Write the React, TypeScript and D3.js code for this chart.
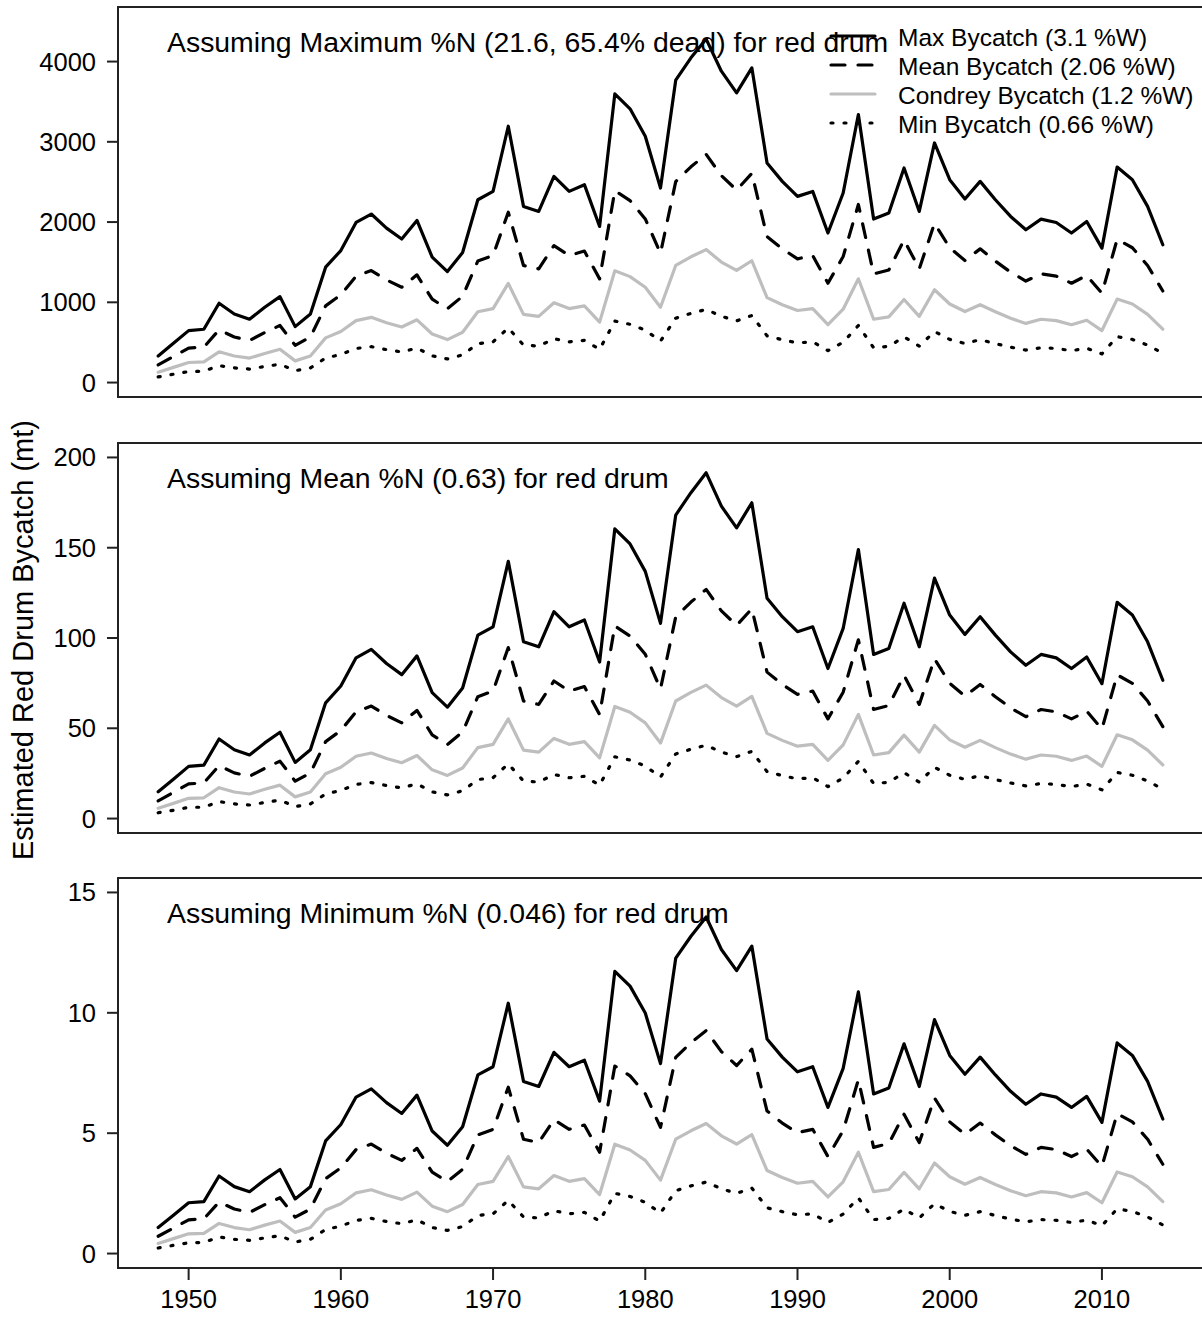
import React from "react";
import * as d3 from "d3";

// years 1948..2014
const years = d3.range(1948, 2015);

const titles = [
  "Assuming Maximum %N (21.6, 65.4% dead) for red drum",
  "Assuming Mean %N (0.63) for red drum",
  "Assuming Minimum %N (0.046) for red drum",
];

const legendLabels = [
  "Max Bycatch (3.1 %W)",
  "Mean Bycatch (2.06 %W)",
  "Condrey Bycatch (1.2 %W)",
  "Min Bycatch (0.66 %W)",
];

const yTicks1 = [0, 1000, 2000, 3000, 4000];
const yTicks2 = [0, 50, 100, 150, 200];
const yTicks3 = [0, 5, 10, 15];
const xTicks = [1950, 1960, 1970, 1980, 1990, 2000, 2010];

// panel 1: maximum %N
const p1Max = [331, 489, 647, 664, 989, 855, 789, 939, 1071, 697, 855, 1438, 1645, 1995, 2100, 1925, 1788, 2020, 1563, 1383, 1620, 2278, 2382, 3194, 2195, 2132, 2569, 2382, 2466, 1945, 3598, 3411, 3069, 2424, 3768, 4047, 4280, 3880, 3610, 3922, 2736, 2507, 2320, 2382, 1863, 2362, 3340, 2037, 2112, 2674, 2132, 2986, 2528, 2287, 2507, 2278, 2070, 1904, 2037, 1995, 1863, 2007, 1675, 2686, 2528, 2195, 1717];
const p1Mean = [220, 325, 430, 441, 657, 568, 524, 624, 712, 463, 568, 956, 1093, 1326, 1395, 1279, 1188, 1342, 1039, 919, 1076, 1514, 1583, 2122, 1459, 1417, 1707, 1583, 1639, 1292, 2391, 2267, 2039, 1611, 2504, 2689, 2844, 2578, 2399, 2606, 1818, 1666, 1542, 1583, 1238, 1570, 2219, 1354, 1403, 1777, 1417, 1984, 1680, 1520, 1666, 1514, 1376, 1265, 1354, 1326, 1238, 1334, 1113, 1785, 1680, 1459, 1141];
const p1Condrey = [128, 189, 250, 257, 383, 331, 305, 363, 415, 270, 331, 557, 637, 772, 813, 745, 692, 782, 605, 535, 627, 882, 922, 1236, 850, 825, 994, 922, 955, 753, 1393, 1320, 1188, 938, 1459, 1567, 1657, 1502, 1397, 1518, 1059, 970, 898, 922, 721, 914, 1293, 789, 818, 1035, 825, 1156, 979, 885, 970, 882, 801, 737, 789, 772, 721, 777, 648, 1040, 979, 850, 665];
const p1Min = [70, 104, 138, 141, 211, 182, 168, 200, 228, 148, 182, 306, 350, 425, 447, 410, 381, 430, 333, 294, 345, 485, 507, 680, 467, 454, 547, 507, 525, 414, 766, 726, 653, 516, 802, 862, 911, 826, 769, 835, 582, 534, 494, 507, 397, 503, 711, 434, 450, 569, 454, 636, 538, 487, 534, 485, 441, 405, 434, 425, 397, 427, 357, 572, 538, 467, 366];

// panel 2: mean %N
const p2Max = [14.8, 21.8, 28.9, 29.6, 44.1, 38.1, 35.2, 41.9, 47.8, 31.1, 38.1, 64.1, 73.4, 89.0, 93.7, 85.9, 79.7, 90.1, 69.7, 61.7, 72.3, 101.6, 106.2, 142.5, 97.9, 95.1, 114.6, 106.2, 110.0, 86.7, 160.5, 152.1, 136.9, 108.1, 168.1, 180.5, 191.5, 173.0, 161.0, 174.9, 122.0, 111.8, 103.5, 106.2, 83.1, 105.3, 149.0, 90.9, 94.2, 119.3, 95.1, 133.2, 112.7, 102.0, 111.8, 101.6, 92.3, 84.9, 90.9, 89.0, 83.1, 89.5, 74.7, 119.8, 112.7, 97.9, 76.6];
const p2Mean = [9.8, 14.5, 19.2, 19.7, 29.3, 25.3, 23.4, 27.8, 31.8, 20.7, 25.3, 42.6, 48.8, 59.1, 62.3, 57.1, 53.0, 59.9, 46.3, 41.0, 48.0, 67.5, 70.6, 94.7, 65.1, 63.2, 76.2, 70.6, 73.1, 57.6, 106.7, 101.1, 91.0, 71.8, 111.7, 119.9, 126.9, 115.0, 107.0, 116.2, 81.1, 74.3, 68.8, 70.6, 55.2, 70.0, 99.0, 60.4, 62.6, 79.3, 63.2, 88.5, 74.9, 67.8, 74.3, 67.5, 61.3, 56.4, 60.4, 59.1, 55.2, 59.5, 49.6, 79.6, 74.9, 65.1, 50.9];
const p2Condrey = [5.7, 8.4, 11.2, 11.5, 17.1, 14.7, 13.6, 16.2, 18.5, 12.0, 14.7, 24.8, 28.4, 34.5, 36.3, 33.3, 30.9, 34.9, 27.0, 23.9, 28.0, 39.3, 41.1, 55.2, 37.9, 36.8, 44.4, 41.1, 42.6, 33.6, 62.1, 58.9, 53.0, 41.8, 65.1, 69.9, 73.9, 67.0, 62.3, 67.7, 47.2, 43.3, 40.1, 41.1, 32.2, 40.8, 57.7, 35.2, 36.5, 46.2, 36.8, 51.6, 43.6, 39.5, 43.3, 39.3, 35.7, 32.9, 35.2, 34.5, 32.2, 34.6, 28.9, 46.4, 43.6, 37.9, 29.7];
const p2Min = [3.2, 4.6, 6.2, 6.3, 9.4, 8.1, 7.5, 8.9, 10.2, 6.6, 8.1, 13.6, 15.6, 18.9, 19.9, 18.3, 17.0, 19.2, 14.8, 13.1, 15.4, 21.6, 22.6, 30.3, 20.8, 20.2, 24.4, 22.6, 23.4, 18.5, 34.2, 32.4, 29.1, 23.0, 35.8, 38.4, 40.6, 36.8, 34.3, 37.2, 26.0, 23.8, 22.0, 22.6, 17.7, 22.4, 31.7, 19.4, 20.1, 25.4, 20.2, 28.4, 24.0, 21.7, 23.8, 21.6, 19.7, 18.1, 19.4, 18.9, 17.7, 19.1, 15.9, 25.5, 24.0, 20.8, 16.3];

// panel 3: minimum %N
const p3Max = [1.08, 1.59, 2.11, 2.16, 3.22, 2.78, 2.57, 3.06, 3.49, 2.27, 2.78, 4.68, 5.36, 6.50, 6.84, 6.27, 5.82, 6.58, 5.09, 4.50, 5.27, 7.42, 7.76, 10.40, 7.15, 6.94, 8.36, 7.76, 8.03, 6.33, 11.72, 11.11, 9.99, 7.89, 12.27, 13.18, 13.98, 12.63, 11.75, 12.77, 8.91, 8.16, 7.55, 7.76, 6.07, 7.69, 10.87, 6.63, 6.88, 8.71, 6.94, 9.72, 8.23, 7.45, 8.16, 7.42, 6.74, 6.20, 6.63, 6.50, 6.07, 6.53, 5.45, 8.75, 8.23, 7.15, 5.59];
const p3Mean = [0.72, 1.06, 1.40, 1.44, 2.14, 1.85, 1.71, 2.03, 2.32, 1.51, 1.85, 3.11, 3.56, 4.32, 4.55, 4.17, 3.87, 4.37, 3.38, 2.99, 3.50, 4.93, 5.16, 6.91, 4.75, 4.61, 5.56, 5.16, 5.34, 4.21, 7.79, 7.38, 6.64, 5.24, 8.15, 8.76, 9.26, 8.39, 7.81, 8.49, 5.92, 5.42, 5.02, 5.16, 4.03, 5.11, 7.22, 4.41, 4.57, 5.79, 4.61, 6.46, 5.47, 4.95, 5.42, 4.93, 4.48, 4.12, 4.41, 4.32, 4.03, 4.34, 3.62, 5.81, 5.47, 4.75, 3.71];
const p3Condrey = [0.42, 0.62, 0.82, 0.84, 1.25, 1.08, 0.99, 1.18, 1.35, 0.88, 1.08, 1.81, 2.07, 2.52, 2.65, 2.43, 2.25, 2.55, 1.97, 1.74, 2.04, 2.87, 3.00, 4.03, 2.77, 2.69, 3.24, 3.00, 3.11, 2.45, 4.54, 4.30, 3.87, 3.05, 4.75, 5.10, 5.40, 4.89, 4.55, 4.94, 3.45, 3.16, 2.92, 3.00, 2.35, 2.98, 4.21, 2.57, 2.66, 3.37, 2.69, 3.76, 3.19, 2.88, 3.16, 2.87, 2.61, 2.40, 2.57, 2.52, 2.35, 2.53, 2.11, 3.39, 3.19, 2.77, 2.16];
const p3Min = [0.23, 0.34, 0.45, 0.46, 0.69, 0.59, 0.55, 0.65, 0.74, 0.48, 0.59, 1.00, 1.14, 1.38, 1.46, 1.33, 1.24, 1.40, 1.08, 0.96, 1.12, 1.58, 1.65, 2.21, 1.52, 1.48, 1.78, 1.65, 1.71, 1.35, 2.50, 2.37, 2.13, 1.68, 2.61, 2.81, 2.97, 2.69, 2.50, 2.72, 1.90, 1.74, 1.61, 1.65, 1.29, 1.64, 2.31, 1.41, 1.46, 1.85, 1.48, 2.07, 1.75, 1.59, 1.74, 1.58, 1.43, 1.32, 1.41, 1.38, 1.29, 1.39, 1.16, 1.86, 1.75, 1.52, 1.19];

const FONT = '"Liberation Sans", Arial, Helvetica, sans-serif';
const LEFT = 118;
const RIGHT = 1203;

// line styles: max, mean, condrey, min
const styles = [
  { stroke: "#000", dash: undefined as string | undefined },
  { stroke: "#000", dash: "14,13" },
  { stroke: "#bebebe", dash: undefined },
  { stroke: "#000", dash: "2,11" },
];

const panels = [
  { title: titles[0], series: [p1Max, p1Mean, p1Condrey, p1Min], ticks: yTicks1, lim: [-180, 4680], top: 7, bottom: 397 },
  { title: titles[1], series: [p2Max, p2Mean, p2Condrey, p2Min], ticks: yTicks2, lim: [-8, 208], top: 443, bottom: 833 },
  { title: titles[2], series: [p3Max, p3Mean, p3Condrey, p3Min], ticks: yTicks3, lim: [-0.6, 15.6], top: 878, bottom: 1268 },
];

const App = () => {
  const x = d3.scaleLinear().domain([1945.36, 2016.64]).range([LEFT, RIGHT]);

  return (
    <svg width={1202} height={1317} style={{ position: "absolute", left: 0, top: 0, background: "#fff" }} fontFamily={FONT}>
      <rect x={0} y={0} width={1202} height={1317} fill="#fff" />
      {panels.map((p, pi) => {
        const y = d3.scaleLinear().domain(p.lim).range([p.bottom, p.top]);
        const line = d3.line<number>().x((d, i) => x(years[i])).y(d => y(d));
        return (
          <g key={pi}>
            <text x={167} y={p.top + 45} fontSize={28.4} fill="#000">{p.title}</text>
            {p.series.map((s, si) => (
              <path key={si} d={line(s) || ""} fill="none" stroke={styles[si].stroke}
                strokeWidth={3.2} strokeDasharray={styles[si].dash}
                strokeLinecap="round" strokeLinejoin="round" />
            ))}
            <rect x={LEFT} y={p.top} width={RIGHT - LEFT} height={p.bottom - p.top}
              fill="none" stroke="#222" strokeWidth={2} />
            {p.ticks.map(t => (
              <g key={t}>
                <line x1={LEFT - 11} x2={LEFT} y1={y(t)} y2={y(t)} stroke="#222" strokeWidth={2} />
                <text x={96} y={y(t)} textAnchor="end" dominantBaseline="central" fontSize={25.5} fill="#000">{t}</text>
              </g>
            ))}
            {pi === 2 && xTicks.map(t => (
              <g key={t}>
                <line x1={x(t)} x2={x(t)} y1={p.bottom} y2={p.bottom + 12} stroke="#222" strokeWidth={2} />
                <text x={x(t)} y={p.bottom + 40} textAnchor="middle" fontSize={25.5} fill="#000">{t}</text>
              </g>
            ))}
          </g>
        );
      })}
      {/* legend */}
      <g>
        {legendLabels.map((lab, i) => (
          <g key={lab}>
            <line x1={831} x2={875} y1={36 + i * 29} y2={36 + i * 29} stroke={styles[i].stroke}
              strokeWidth={3.2} strokeDasharray={styles[i].dash} strokeLinecap="round" />
            <text x={898} y={37 + i * 29} dominantBaseline="central" fontSize={24.5} fill="#000">{lab}</text>
          </g>
        ))}
      </g>
      <text transform="translate(33,640) rotate(-90)" textAnchor="middle" fontSize={29} fill="#000">
        Estimated Red Drum Bycatch (mt)
      </text>
    </svg>
  );
};

export default App;
